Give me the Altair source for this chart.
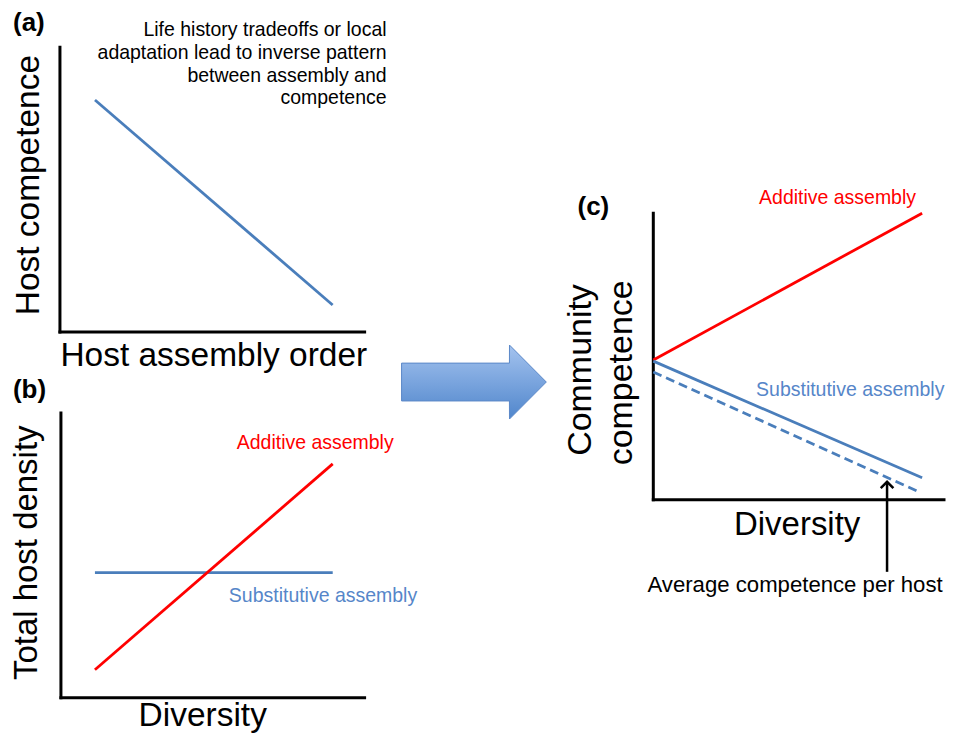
import altair as alt
import pandas as pd

FONT = "Liberation Sans"
BLUE = "#4a7ebb"
BLUE_TEXT = "#5686c9"
RED = "#ff0000"

# ---------------- panel (a): host competence vs assembly order ----------------
a_order = [0.115, 0.895]
a_competence = [0.815, 0.095]
a_note_lines = ["Life history tradeoffs or local", "adaptation lead to inverse pattern",
                "between assembly and", "competence"]
a_note_y = [1.039, 0.958, 0.879, 0.800]

# ---------------- panel (b): total host density vs diversity ----------------
b_diversity = [0.112, 0.895]
b_additive = [0.098, 0.821]
b_substitutive = [0.439, 0.439]

# ---------------- panel (c): community competence vs diversity ----------------
c_diversity = [0.0, 0.897]
c_additive = [0.488, 1.0]
c_substitutive = [0.484, 0.077]
c_avg_diversity = [0.0, 0.887]
c_avg_per_host = [0.446, 0.028]

# ---------------- big arrow (in panel c units) ----------------
arrow_x = [-0.84, -0.4801, -0.4799, -0.357]
arrow_top = [0.477, 0.477, 0.540, 0.411]
arrow_bottom = [0.345, 0.345, 0.282, 0.411]


def scales(xd, yd):
    return (alt.Scale(domain=xd, nice=False, zero=False),
            alt.Scale(domain=yd, nice=False, zero=False))


def axes_layer(xs, ys, xend=1.0):
    df = pd.DataFrame({"x": [0, 0], "y": [0, 0], "x2": [xend, 0], "y2": [0, 1]})
    return alt.Chart(df).mark_rule(color="black", strokeWidth=3, strokeCap="square").encode(
        x=alt.X("x:Q", scale=xs, axis=None), y=alt.Y("y:Q", scale=ys, axis=None),
        x2="x2:Q", y2="y2:Q")


def line_layer(xv, yv, xs, ys, color, dash=None):
    df = pd.DataFrame({"x": xv, "y": yv})
    kw = dict(color=color, strokeWidth=2.8)
    if dash:
        kw["strokeDash"] = dash
    return alt.Chart(df).mark_line(**kw).encode(
        x=alt.X("x:Q", scale=xs, axis=None), y=alt.Y("y:Q", scale=ys, axis=None))


def text_layer(texts, xv, yv, xs, ys, size, color="black", weight="normal", angle=0, align="left"):
    df = pd.DataFrame({"x": xv, "y": yv, "t": texts})
    return alt.Chart(df).mark_text(font=FONT, fontSize=size, color=color, fontWeight=weight,
                                   angle=angle, align=align, baseline="alphabetic").encode(
        x=alt.X("x:Q", scale=xs, axis=None), y=alt.Y("y:Q", scale=ys, axis=None), text="t:N")


# ---- panel (a)
xa, ya = scales([-0.1705, 1.1082], [-0.1825, 1.1368])
panel_a = alt.layer(
    axes_layer(xa, ya),
    line_layer(a_order, a_competence, xa, ya, BLUE),
    text_layer(["(a)"], [-0.154], [1.056], xa, ya, 26, weight="bold"),
    text_layer(a_note_lines, [1.072] * 4, a_note_y, xa, ya, 19.5, align="right"),
    text_layer(["Host competence"], [-0.069], [0.516], xa, ya, 33.5, angle=270, align="center"),
    text_layer(["Host assembly order"], [0.505], [-0.119], xa, ya, 33.5, align="center"),
).properties(width=390, height=376)

# ---- panel (b)
xb, yb = scales([-0.1743, 1.1086], [-0.1228, 1.1018])
panel_b = alt.layer(
    axes_layer(xb, yb),
    line_layer(b_diversity, b_substitutive, xb, yb, BLUE),
    line_layer(b_diversity, b_additive, xb, yb, RED),
    text_layer(["(b)"], [-0.158], [1.0526], xb, yb, 26, weight="bold"),
    text_layer(["Additive assembly"], [0.579], [0.874], xb, yb, 19.5, color=RED),
    text_layer(["Substitutive assembly"], [0.553], [0.337], xb, yb, 19.5, color=BLUE_TEXT),
    text_layer(["Total host density"], [-0.078], [0.509], xb, yb, 33, angle=270, align="center"),
    text_layer(["Diversity"], [0.467], [-0.0985], xb, yb, 33.5, align="center"),
).properties(width=390, height=349)

# ---- panel (c) with the big arrow
xc, yc = scales([-0.8533, 0.9767], [0.4042, 1.7143])
arrow_df = pd.DataFrame({"x": arrow_x, "top": arrow_top, "bottom": arrow_bottom})
big_arrow = alt.Chart(arrow_df).mark_area(
    color=alt.Gradient(gradient="linear",
                       stops=[alt.GradientStop(color="#a4c3ef", offset=0),
                              alt.GradientStop(color="#5086cc", offset=1)],
                       x1=0, x2=0, y1=0, y2=1),
    stroke="#5a88c8", strokeWidth=1, interpolate="linear").encode(
    x=alt.X("x:Q", scale=xc, axis=None), y=alt.Y("top:Q", scale=yc, axis=None),
    y2="bottom:Q")

pointer_df = pd.DataFrame({"x": [0.78], "y": [-0.251], "y2": [0.063]})
pointer = alt.Chart(pointer_df).mark_rule(color="black", strokeWidth=2.5).encode(
    x=alt.X("x:Q", scale=xc, axis=None), y=alt.Y("y:Q", scale=yc, axis=None), y2="y2:Q")
pointer_head = alt.Chart(pointer_df).mark_point(
    shape="M-1,1L0,0L1,1", filled=False, color="black", strokeWidth=2.5, size=160, opacity=1).encode(
    x=alt.X("x:Q", scale=xc, axis=None), y=alt.Y("y2:Q", scale=yc, axis=None))

panel_c = alt.layer(
    big_arrow,
    axes_layer(xc, yc, xend=0.97),
    line_layer(c_diversity, c_additive, xc, yc, RED),
    line_layer(c_diversity, c_substitutive, xc, yc, BLUE),
    line_layer(c_avg_diversity, c_avg_per_host, xc, yc, BLUE, dash=[9, 5]),
    pointer, pointer_head,
    text_layer(["(c)"], [-0.253], [0.993], xc, yc, 26, weight="bold"),
    text_layer(["Additive assembly"], [0.353], [1.031], xc, yc, 19.5, color=RED),
    text_layer(["Substitutive assembly"], [0.343], [0.362], xc, yc, 19.5, color=BLUE_TEXT),
    text_layer(["Community"], [-0.207], [0.453], xc, yc, 34, angle=270, align="center"),
    text_layer(["competence"], [-0.07], [0.443], xc, yc, 34, angle=270, align="center"),
    text_layer(["Diversity"], [0.48], [-0.122], xc, yc, 33, align="center"),
    text_layer(["Average competence per host"], [0.473], [-0.321], xc, yc, 22.2, align="center"),
).properties(width=549, height=376)

chart = alt.concat(panel_a, panel_c, panel_b, columns=2, spacing=0,
                   bounds="flush", align="each").properties(
    padding=0, background="white").configure_view(stroke=None)

chart.save("out.html", embed_options={"renderer": "svg", "actions": False})
